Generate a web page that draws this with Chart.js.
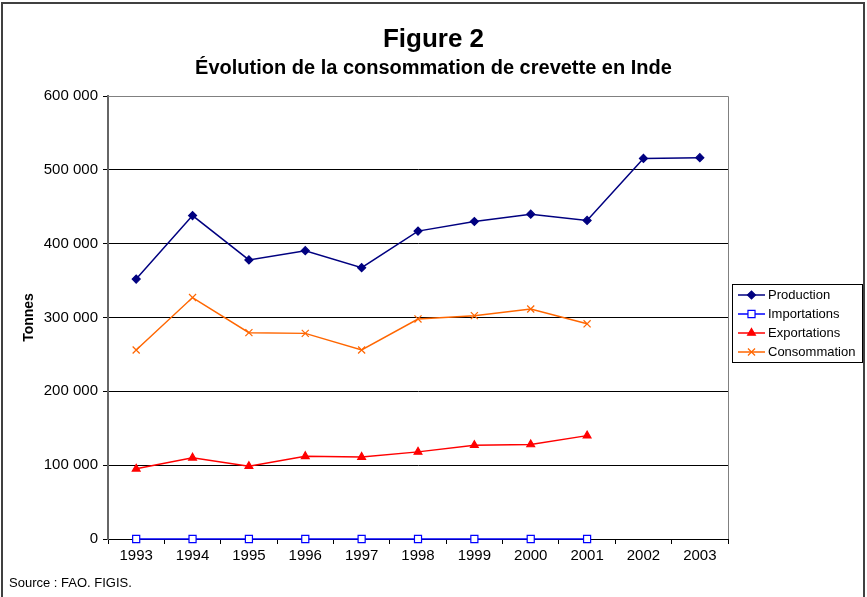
<!DOCTYPE html>
<html lang="fr">
<head>
<meta charset="utf-8">
<title>Figure 2</title>
<style>
  html, body { margin: 0; padding: 0; background: #fff; }
  canvas { display: block; }
</style>
</head>
<body>
<canvas id="fig" width="867" height="597"></canvas>
<script src="https://cdn.jsdelivr.net/npm/chart.js"></script>
<script>
// Crevette en Inde, tonnes par an
var annees = ['1993', '1994', '1995', '1996', '1997', '1998', '1999', '2000', '2001', '2002', '2003'];
var production   = [352000, 438000, 378000, 390500, 367500, 417000, 430000, 440000, 431500, 515500, 516500];
var importations = [0, 0, 0, 0, 0, 0, 0, 0, 0, null, null];
var exportations = [95000, 110000, 98500, 112000, 111000, 118000, 127000, 128000, 140000, null, null];
var consommation = [256000, 327000, 279500, 278500, 256000, 298000, 302500, 311500, 291500, null, null];
var yTicks = [0, 100000, 200000, 300000, 400000, 500000, 600000];

var titre = 'Figure 2';
var sousTitre = 'Évolution de la consommation de crevette en Inde';
var source = 'Source : FAO. FIGIS.';

var police = 'Liberation Sans, Arial, sans-serif';

function milliers(v) {
	return String(v).replace(/\B(?=(\d{3})+(?!\d))/g, ' ');
}

function serie(label, data, couleur, style, rayon, fond) {
	return {
		label: label,
		data: data,
		borderColor: couleur,
		backgroundColor: fond || couleur,
		borderWidth: 1.5,
		pointStyle: style,
		pointRadius: rayon,
		pointHoverRadius: rayon,
		pointBorderColor: couleur,
		pointBackgroundColor: fond || couleur,
		pointBorderWidth: 1.2,
		tension: 0,
		spanGaps: false,
		clip: false
	};
}

// titres, cadre, légende et source dessinés à la main
var decor = {
	id: 'decor',
	afterDraw: function(chart) {
		var ctx = chart.ctx, a = chart.chartArea;
		ctx.save();
		// titres centrés sur toute la largeur
		ctx.fillStyle = '#000';
		ctx.textAlign = 'center';
		ctx.textBaseline = 'middle';
		ctx.font = 'bold 26px ' + police;
		ctx.fillText(titre, 433.5, 40);
		ctx.font = 'bold 20px ' + police;
		ctx.fillText(sousTitre, 433.5, 68);

		// bord haut et droit de la zone de traçage
		ctx.strokeStyle = '#808080';
		ctx.lineWidth = 1;
		ctx.beginPath();
		ctx.moveTo(a.left, Math.round(a.top) + 0.5);
		ctx.lineTo(Math.round(a.right) + 0.5, Math.round(a.top) + 0.5);
		ctx.lineTo(Math.round(a.right) + 0.5, a.bottom);
		ctx.stroke();

		// légende
		var lx = 732, ly = 284, lw = 130, lh = 78;
		ctx.strokeStyle = '#000';
		ctx.strokeRect(lx + 0.5, ly + 0.5, lw, lh);
		ctx.font = '13px ' + police;
		ctx.textAlign = 'left';
		chart.data.datasets.forEach(function(ds, i) {
			var y = ly + 11 + i * 19;
			ctx.strokeStyle = ds.borderColor;
			ctx.lineWidth = 1.5;
			ctx.beginPath();
			ctx.moveTo(lx + 6, y);
			ctx.lineTo(lx + 33, y);
			ctx.stroke();
			ctx.strokeStyle = ds.pointBorderColor;
			ctx.fillStyle = ds.pointBackgroundColor;
			ctx.lineWidth = ds.pointBorderWidth;
			Chart.helpers.drawPoint(ctx, {pointStyle: ds.pointStyle, radius: ds.pointRadius, rotation: 0, borderWidth: ds.pointBorderWidth}, lx + 19.5, y);
			ctx.fillStyle = '#000';
			ctx.fillText(ds.label, lx + 36, y + 0.5);
		});

		// source
		ctx.font = '13px ' + police;
		ctx.fillStyle = '#000';
		ctx.fillText(source, 9, 583);

		// cadre extérieur
		ctx.strokeStyle = '#404040';
		ctx.lineWidth = 2;
		ctx.strokeRect(2, 3, 862, 620);
		ctx.restore();
	}
};

var config = {
	type: 'line',
	data: {
		labels: annees,
		datasets: [
			serie('Production', production, '#000080', 'rectRot', 4),
			serie('Importations', importations, '#0000FF', 'rect', 5, '#fff'),
			serie('Exportations', exportations, '#FF0000', 'triangle', 4.5),
			serie('Consommation', consommation, '#FF6600', 'crossRot', 5)
		]
	},
	options: {
		responsive: false,
		animation: false,
		events: [],
		layout: { padding: { left: 0, right: 139, top: 96, bottom: 0 } },
		plugins: {
			legend: { display: false },
			tooltip: { enabled: false }
		},
		scales: {
			x: {
				offset: true,
				grid: { offset: true, drawOnChartArea: false, drawTicks: true, tickLength: 5, tickColor: '#000' },
				border: { color: '#000', width: 1 },
				ticks: { color: '#000', font: { family: police, size: 15 }, padding: 3, maxRotation: 0, autoSkip: false },
				afterFit: function(s) { s.height = 58; }
			},
			y: {
				min: 0,
				max: 600000,
				afterBuildTicks: function(s) { s.ticks = yTicks.map(function(v) { return {value: v}; }); },
				grid: {
					color: function(c) { return c.tick && c.tick.value === 600000 ? '#808080' : '#000'; },
					tickColor: '#000',
					tickLength: 5,
					lineWidth: 1
				},
				border: { color: '#666', width: 2 },
				ticks: { color: '#000', font: { family: police, size: 15 }, padding: 5, callback: function(v) { return milliers(v); } },
				title: {
					display: true,
					text: 'Tonnes',
					color: '#000',
					font: { family: police, size: 14, weight: 'bold' },
					padding: { top: 21, bottom: 0 }
				},
				afterFit: function(s) { s.width = 108; }
			}
		}
	},
	plugins: [decor]
};

new Chart(document.getElementById('fig').getContext('2d'), config);
</script>
</body>
</html>
